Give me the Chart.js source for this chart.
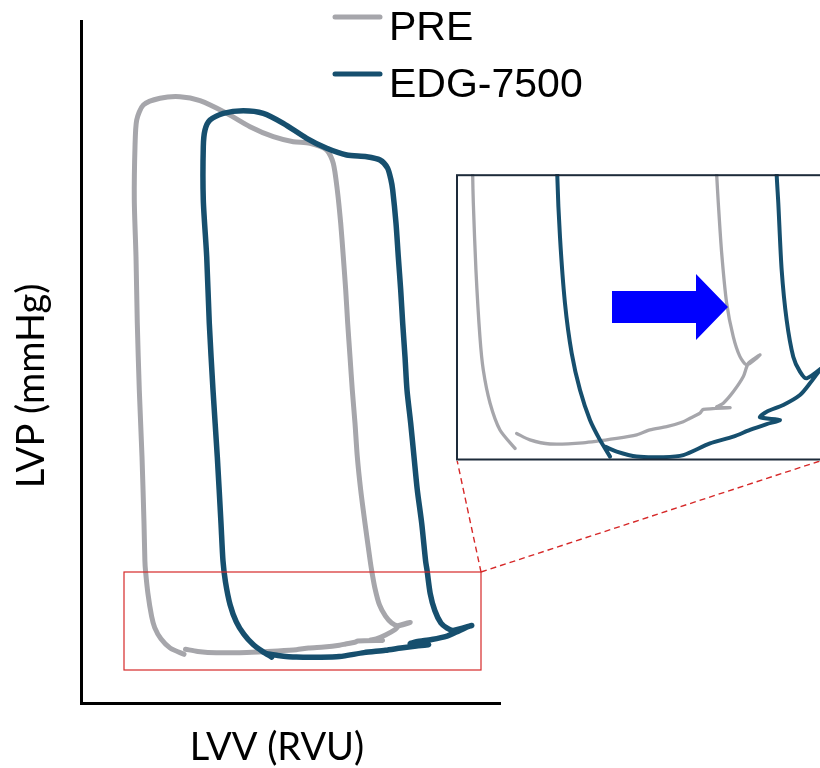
<!DOCTYPE html>
<html>
<head>
<meta charset="utf-8">
<script src="https://cdn.jsdelivr.net/npm/chart.js@4.4.1/dist/chart.umd.min.js"></script>
<style>
  html, body { margin: 0; padding: 0; background: #fff; }
  #wrap { position: relative; width: 820px; height: 768px; overflow: hidden; }
  #main { position: absolute; left: 0; top: 0; }
  #zoom { position: absolute; left: 456px; top: 174px; }
</style>
</head>
<body>
<div id="wrap">
  <canvas id="main" width="820" height="768"></canvas>
  <canvas id="zoom" width="364" height="287"></canvas>
</div>
<script>
// PV loops, volume (RVU) vs pressure, arbitrary units
var seriesNames = ['PRE', 'EDG-7500'];

var preVolume = [104.5, 116.8, 135.3, 165.7, 196.9, 215.3, 227.6, 243.0, 258.4, 264.6, 273.8, 276.8, 301.5, 289.2, 295.3, 304.5,
    313.8, 318.4, 329.2, 317.2, 310.7, 304.5, 298.4, 293.8, 290.7, 289.2, 284.0, 279.7, 276.3, 274.0, 271.3, 269.0, 266.7,
    264.7, 262.3, 259.7, 256.3, 252.3, 245.7, 229.0, 212.3, 192.3, 169.0, 145.7, 119.0, 99.0, 79.0, 62.3, 55.7, 54.0, 53.3,
    55.0, 56.3, 58.3, 61.0, 63.0, 63.9, 64.5, 66.9, 70.6, 73.7, 79.9, 89.1, 103.0];
var prePressure = [53.8, 51.6, 50.2, 50.6, 52.1, 53.3, 55.0, 56.1, 57.8, 59.0, 60.7, 62.0, 62.6, 62.8, 64.1, 68.0,
    73.2, 77.7, 80.6, 77.2, 80.0, 86.8, 98.3, 115.4, 132.4, 142.0, 179.7, 213.0, 246.3, 279.7, 313.0, 346.3, 379.7,
    413.0, 446.3, 479.7, 513.0, 539.7, 553.0, 559.7, 561.3, 566.3, 576.3, 589.7, 602.3, 606.3, 604.7, 598.0, 583.0, 556.3, 503.0,
    446.3, 379.7, 313.0, 246.3, 179.7, 142.0, 132.4, 109.6, 86.7, 75.4, 64.2, 55.0, 48.7];

var edgVolume = [186.1, 196.9, 215.3, 239.9, 258.4, 283.0, 304.5, 319.9, 335.4, 347.6, 329.2, 335.4, 350.7, 366.1,
    375.3, 384.6, 390.7, 372.3, 366.1, 359.9, 353.8, 349.2, 346.1, 344.6, 340.7, 336.3, 333.0, 329.7, 326.0,
    324.0, 321.7, 319.7, 317.3, 315.0, 311.7, 310.0, 306.5, 299.0, 285.7, 265.7, 245.7, 225.7, 202.3, 182.3, 162.3, 142.3, 129.0,
    124.0, 122.3, 122.3, 125.7, 128.3, 132.0, 136.3, 140.0, 142.0, 144.5, 149.1, 155.3, 163.0, 172.2, 181.4, 190.7];
var edgPressure = [49.3, 47.6, 45.9, 45.7, 46.4, 50.4, 52.7, 55.0, 57.0, 58.4, 59.3, 61.2, 63.5, 66.9,
    70.9, 75.4, 77.5, 72.6, 74.9, 80.0, 92.5, 109.6, 132.4, 142.0, 179.7, 213.0, 246.3, 279.7, 313.0,
    346.3, 379.7, 413.0, 446.3, 479.7, 513.0, 523.0, 535.0, 543.0, 546.3, 548.0, 554.7, 564.7, 579.7, 589.7, 592.3, 589.7, 583.0,
    573.0, 556.3, 503.0, 446.3, 379.7, 313.0, 246.3, 179.7, 142.0, 120.9, 98.3, 81.2, 68.6, 58.4, 51.6, 45.9];

var xTitle = 'LVV (RVU)';
var yTitle = 'LVP (mmHg)';

var grey = '#a6a6ab';
var navy = '#164f6e';

// region magnified in the inset, in data units
var zoomRange = { xMin: 48.5, xMax: 384.6, yMin: 44.4, yMax: 142.3 };
// red frame drawn on the main plot
var zoomFrame = { xMin: 43, xMax: 400, yMin: 33, yMax: 131 };

function toPoints(xs, ys) {
    return xs.map(function (x, i) { return { x: x, y: ys[i] }; });
}

function makeDatasets(width) {
    return [{
        label: seriesNames[0],
        data: toPoints(preVolume, prePressure),
        borderColor: grey,
        borderWidth: width[0],
        order: 2
    }, {
        label: seriesNames[1],
        data: toPoints(edgVolume, edgPressure),
        borderColor: navy,
        borderWidth: width[1],
        order: 1
    }].map(function (d) {
        d.showLine = true;
        d.pointRadius = 0;
        d.tension = 0.25;
        d.fill = false;
        d.borderCapStyle = 'round';
        d.borderJoinStyle = 'round';
        return d;
    });
}

function axisOpts(min, max, vertical) {
    return {
        type: 'linear',
        min: min,
        max: max,
        ticks: { display: false },
        grid: { display: false, drawTicks: false },
        border: { display: true, color: '#000', width: 3 },
        afterFit: function (s) { if (vertical) s.width = 0; else s.height = 0; }
    };
}

var zoomCanvas = document.getElementById('zoom');

var mainDecor = {
    id: 'mainDecor',
    afterDraw: function (chart) {
        var ctx = chart.ctx;
        var xs = chart.scales.x, ys = chart.scales.y;
        var l = xs.getPixelForValue(zoomFrame.xMin), r = xs.getPixelForValue(zoomFrame.xMax);
        var t = ys.getPixelForValue(zoomFrame.yMax), b = ys.getPixelForValue(zoomFrame.yMin);
        ctx.save();
        ctx.strokeStyle = '#d62828';
        ctx.lineWidth = 1.2;
        ctx.strokeRect(l, t, r - l, b - t);

        // connector lines to the inset
        var insetL = zoomCanvas.offsetLeft + 1;
        var insetB = zoomCanvas.offsetTop + 286;
        ctx.setLineDash([6, 4]);
        ctx.lineWidth = 1.4;
        ctx.beginPath();
        ctx.moveTo(r, t); ctx.lineTo(insetL, insetB);
        ctx.moveTo(r, t); ctx.lineTo(820, insetB + 1);
        ctx.stroke();
        ctx.setLineDash([]);

        // legend
        ctx.font = '41px "Liberation Sans", Arial, sans-serif';
        ctx.textBaseline = 'alphabetic';
        ctx.fillStyle = '#000';
        ctx.lineCap = 'round';
        chart.data.datasets.forEach(function (ds, i) {
            var y = 17 + i * 57;
            ctx.strokeStyle = ds.borderColor;
            ctx.lineWidth = 5;
            ctx.beginPath();
            ctx.moveTo(335, y); ctx.lineTo(380, y);
            ctx.stroke();
            ctx.fillText(ds.label, 389, y + 23);
        });

        // axis titles
        ctx.font = '38px Lato, "Open Sans", sans-serif';
        ctx.textAlign = 'center';
        ctx.fillText(xTitle, 277, 760);
        ctx.translate(44, 386);
        ctx.rotate(-Math.PI / 2);
        ctx.fillText(yTitle, 0, 0);
        ctx.restore();
    }
};

new Chart(document.getElementById('main'), {
    type: 'scatter',
    data: { datasets: makeDatasets([5, 5.5]) },
    options: {
        responsive: false,
        animation: false,
        layout: { padding: { left: 81, right: 320, top: 21, bottom: 65 } },
        plugins: { legend: { display: false }, tooltip: { enabled: false } },
        scales: {
            x: axisOpts(0, 419, false),
            y: axisOpts(0, 682, true)
        }
    },
    plugins: [mainDecor]
});

var insetDecor = {
    id: 'insetDecor',
    beforeDraw: function (chart) {
        var ctx = chart.ctx;
        ctx.save();
        ctx.fillStyle = '#fff';
        ctx.fillRect(0, 0, chart.width, chart.height);
        ctx.restore();
    },
    afterDraw: function (chart) {
        var ctx = chart.ctx;
        ctx.save();
        // arrow
        ctx.fillStyle = '#0000ff';
        ctx.beginPath();
        ctx.moveTo(156, 117); ctx.lineTo(240, 117); ctx.lineTo(240, 100);
        ctx.lineTo(272, 133); ctx.lineTo(240, 166); ctx.lineTo(240, 149);
        ctx.lineTo(156, 149);
        ctx.closePath();
        ctx.fill();
        // frame
        ctx.strokeStyle = '#1d2b3a';
        ctx.lineWidth = 2;
        ctx.strokeRect(1, 1.2, 380, 284.3);
        ctx.restore();
    }
};

new Chart(zoomCanvas, {
    type: 'scatter',
    data: { datasets: makeDatasets([3.3, 4]) },
    options: {
        responsive: false,
        animation: false,
        layout: { padding: 0 },
        plugins: { legend: { display: false }, tooltip: { enabled: false } },
        scales: {
            x: { type: 'linear', display: false, min: zoomRange.xMin, max: zoomRange.xMax },
            y: { type: 'linear', display: false, min: zoomRange.yMin, max: zoomRange.yMax }
        }
    },
    plugins: [insetDecor]
});
</script>
</body>
</html>
